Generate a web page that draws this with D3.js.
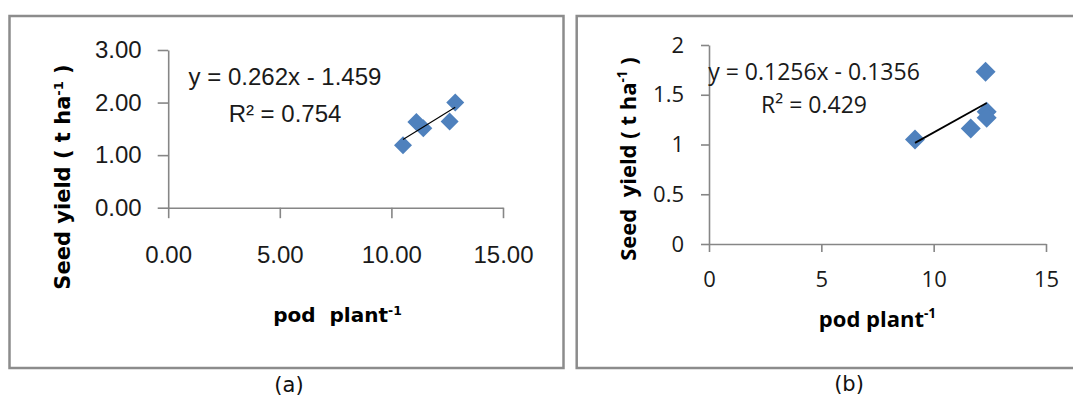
<!DOCTYPE html>
<html>
<head>
<meta charset="utf-8">
<script src="https://cdn.jsdelivr.net/npm/d3@7.9.0/dist/d3.min.js"></script>
<style>
  body { margin: 0; background: #fff; }
  svg text { white-space: pre; }
</style>
</head>
<body>
<svg id="chart" width="1073" height="398"></svg>
<script>
// panel (a) data
const podA = [10.52, 11.12, 11.43, 12.61, 12.86];
const yieldA = [1.19, 1.63, 1.51, 1.64, 2.00];
const fitA = [0.262, -1.459]; // slope, intercept
const xTicksA = [0, 5, 10, 15];
const yTicksA = [0, 1, 2, 3];

// panel (b) data
const podB = [9.17, 11.65, 12.31, 12.36, 12.36];
const yieldB = [1.05, 1.16, 1.73, 1.33, 1.27];
const fitB = [0.1256, -0.1356];
const xTicksB = [0, 5, 10, 15];
const yTicksB = [0, 0.5, 1, 1.5, 2];

const svg = d3.select('#chart');
const blue = '#4F81BD';
const axisGrey = '#868686';

function drawPanel(p) {
  const g = svg.append('g');

  // outer frame
  g.append('rect')
    .attr('x', p.frame[0]).attr('y', 16)
    .attr('width', p.frame[1] - p.frame[0]).attr('height', 352)
    .attr('fill', 'none').attr('stroke', '#8c8c8c').attr('stroke-width', 2.5);

  const x = d3.scaleLinear().domain([0, 15]).range(p.xRange);
  const y = d3.scaleLinear().domain(p.yDomain).range(p.yRange);

  const xAxis = g.append('g')
    .attr('transform', `translate(0,${p.yRange[0]})`)
    .call(d3.axisBottom(x).tickValues(p.xTicks).tickFormat(p.fmt)
      .tickSize(p.tick).tickSizeOuter(0).tickPadding(p.xPad));
  const yAxis = g.append('g')
    .attr('transform', `translate(${p.xRange[0]},0)`)
    .call(d3.axisLeft(y).tickValues(p.yTicks).tickFormat(p.fmt)
      .tickSize(p.tick).tickSizeOuter(0).tickPadding(p.yPad));

  [xAxis, yAxis].forEach(a => {
    a.attr('font-family', p.tickFont).attr('font-size', p.tickSize);
    a.selectAll('path, line').attr('stroke', axisGrey).attr('stroke-width', 1.6);
    a.selectAll('text').attr('fill', '#1a1a1a');
  });

  // points
  const pts = p.pod.map((v, i) => [v, p.yield[i]]);
  g.selectAll('path.pt')
    .data(pts)
    .join('path')
    .attr('class', 'pt')
    .attr('d', d3.symbol(d3.symbolSquare, 2 * p.r * p.r))
    .attr('transform', d => `translate(${x(d[0])},${y(d[1])}) rotate(45)`)
    .attr('fill', blue);

  // linear trendline
  const ext = d3.extent(p.pod);
  const line = d3.line().x(d => x(d)).y(d => y(p.fit[0] * d + p.fit[1]));
  g.append('path')
    .attr('d', line(ext))
    .attr('stroke', '#000').attr('stroke-width', p.lineW).attr('fill', 'none');

  // equation + R²
  g.append('text')
    .attr('x', p.eq[0]).attr('y', p.eq[1])
    .attr('text-anchor', 'middle')
    .attr('font-family', p.tickFont).attr('font-size', p.eqSize).attr('fill', '#1a1a1a')
    .text(p.eqText);
  g.append('text')
    .attr('x', p.eq[0]).attr('y', p.eq[2])
    .attr('text-anchor', 'middle')
    .attr('font-family', p.tickFont).attr('font-size', p.eqSize).attr('fill', '#1a1a1a')
    .text(p.r2Text);

  // y title
  const yt = g.append('text')
    .attr('transform', `translate(${p.yTitle[0]},${p.yTitle[1]}) rotate(-90)`)
    .attr('text-anchor', 'middle')
    .attr('font-family', p.titleFont).attr('font-weight', 'bold')
    .attr('font-size', p.yTitleSize).attr('fill', '#000');
  yt.append('tspan').text(p.yTitleText);
  yt.append('tspan').attr('baseline-shift', 'super').attr('font-size', '62%').text('-1');
  yt.append('tspan').text(' )');

  // x title
  const xt = g.append('text')
    .attr('x', p.xTitle[0]).attr('y', p.xTitle[1])
    .attr('text-anchor', 'middle')
    .attr('font-family', p.titleFont).attr('font-weight', 'bold')
    .attr('font-size', p.xTitleSize).attr('fill', '#000');
  xt.append('tspan').text(p.xTitleText);
  xt.append('tspan').attr('baseline-shift', 'super').attr('font-size', '62%').text('-1');

  // caption
  svg.append('text')
    .attr('x', p.cap[0]).attr('y', p.cap[1])
    .attr('text-anchor', 'middle')
    .attr('font-family', 'DejaVu Sans, Verdana, sans-serif')
    .attr('font-size', 21).attr('fill', '#111')
    .text(p.capText);
}

drawPanel({
  frame: [9.5, 563.5],
  xRange: [168.2, 503], yRange: [207.7, 50], yDomain: [0, 3],
  xTicks: xTicksA, yTicks: yTicksA, fmt: d3.format('.2f'),
  tick: 10.5, xPad: 28, yPad: 16,
  tickFont: 'Liberation Sans, Arial, sans-serif', tickSize: 24,
  pod: podA, yield: yieldA, fit: fitA, r: 9, lineW: 1.1,
  eq: [285, 85, 121.7], eqSize: 24,
  eqText: 'y = 0.262x - 1.459', r2Text: 'R² = 0.754',
  titleFont: 'DejaVu Sans, Verdana, sans-serif',
  yTitle: [70, 177], yTitleSize: 21, yTitleText: 'Seed yield ( t ha',
  xTitle: [337.5, 322], xTitleSize: 20, xTitleText: 'pod  plant',
  cap: [289, 392], capText: '(a)'
});

drawPanel({
  frame: [576.7, 1080],
  xRange: [709, 1046], yRange: [244, 45], yDomain: [0, 2],
  xTicks: xTicksB, yTicks: yTicksB, fmt: d3.format(''),
  tick: 8, xPad: 19, yPad: 17,
  tickFont: 'Open Sans, Noto Sans, sans-serif', tickSize: 22,
  pod: podB, yield: yieldB, fit: fitB, r: 10, lineW: 1.8,
  eq: [814, 80, 113.3], eqSize: 23,
  eqText: 'y = 0.1256x - 0.1356', r2Text: 'R² = 0.429',
  titleFont: 'Open Sans, Noto Sans, sans-serif',
  yTitle: [636, 159], yTitleSize: 22, yTitleText: 'Seed  yield ( t ha',
  xTitle: [877.5, 327], xTitleSize: 22, xTitleText: 'pod plant',
  cap: [849, 391], capText: '(b)'
});
</script>
</body>
</html>
